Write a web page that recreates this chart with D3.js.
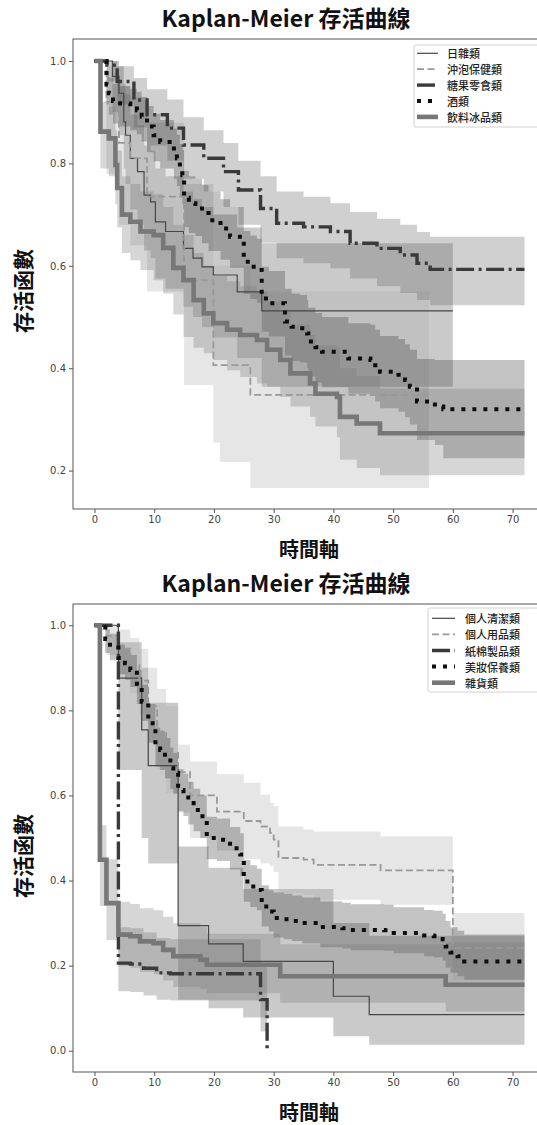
<!DOCTYPE html>
<html>
<head>
<meta charset="utf-8">
<script src="https://cdn.jsdelivr.net/npm/d3@7"></script>
<style>
  body { margin: 0; background: #fff; }
  svg { display: block; }
</style>
</head>
<body>
<svg id="chart" width="537" height="1125"></svg>
<script>
// ---------- top panel: 食品 ----------
const topNames = ['日雜類', '沖泡保健類', '糖果零食類', '酒類', '飲料冰品類'];
const xTicks = [0, 10, 20, 30, 40, 50, 60, 70];
const topYTicks = [0.2, 0.4, 0.6, 0.8, 1.0];
const botYTicks = [0.0, 0.2, 0.4, 0.6, 0.8, 1.0];

const rizaT  = [0, 3, 4.1, 4.9, 5.2, 6, 7.2, 8.3, 9.4, 10.2, 11.9, 14.9, 16.5, 18, 19.9, 23.9, 28, 60];
const rizaS  = [1, 0.97, 0.937, 0.881, 0.855, 0.81, 0.784, 0.738, 0.725, 0.686, 0.667, 0.634, 0.615, 0.598, 0.582, 0.549, 0.512, 0.512];
const rizaLo = [1, 0.9, 0.855, 0.79, 0.76, 0.71, 0.68, 0.63, 0.615, 0.575, 0.555, 0.52, 0.5, 0.48, 0.46, 0.42, 0.364, 0.364];
const rizaHi = [1, 1, 0.99, 0.955, 0.935, 0.895, 0.875, 0.835, 0.825, 0.79, 0.775, 0.745, 0.73, 0.715, 0.7, 0.675, 0.644, 0.644];

const chongT  = [0, 2, 4.1, 6, 8.8, 15, 19.9, 21, 26.1, 56];
const chongS  = [1, 0.92, 0.84, 0.81, 0.735, 0.572, 0.406, 0.406, 0.348, 0.348];
const chongLo = [1, 0.78, 0.68, 0.64, 0.55, 0.367, 0.255, 0.217, 0.166, 0.166];
const chongHi = [1, 0.99, 0.95, 0.93, 0.88, 0.76, 0.6, 0.6, 0.55, 0.55];

const tangT  = [0, 2.1, 3.8, 6.6, 8.8, 12.2, 14.9, 18.3, 21.6, 24.1, 27.8, 30.5, 35, 39.5, 42.8, 47.3, 51.2, 54, 56.2, 72];
const tangS  = [1, 0.992, 0.96, 0.924, 0.895, 0.869, 0.836, 0.81, 0.784, 0.748, 0.712, 0.683, 0.676, 0.667, 0.644, 0.634, 0.621, 0.605, 0.593, 0.593];
const tangLo = [1, 0.96, 0.915, 0.87, 0.835, 0.805, 0.77, 0.745, 0.715, 0.68, 0.645, 0.615, 0.605, 0.595, 0.575, 0.56, 0.547, 0.533, 0.523, 0.523];
const tangHi = [1, 1, 0.99, 0.967, 0.945, 0.925, 0.89, 0.865, 0.84, 0.805, 0.775, 0.745, 0.735, 0.722, 0.705, 0.692, 0.68, 0.666, 0.657, 0.657];

const jiuT  = [0, 2, 2.4, 3.1, 4.3, 6, 7.1, 7.9, 8.8, 9.9, 11, 13.3, 13.8, 14.3, 14.7, 15, 15.8, 16.9, 18, 19.1,
               21.1, 22.7, 25, 26.1, 27.2, 28, 29.2, 31.9, 33, 34.4, 35.6, 35.8, 37, 38.1, 42.5, 46.2, 47, 47.8, 50.9, 52,
               52.8, 54, 57, 58.4, 72];
const jiuS  = [1, 0.954, 0.937, 0.922, 0.917, 0.911, 0.904, 0.891, 0.872, 0.855, 0.842, 0.823, 0.81, 0.79, 0.777, 0.733, 0.722, 0.716, 0.703, 0.689,
               0.673, 0.657, 0.608, 0.598, 0.592, 0.536, 0.527, 0.491, 0.481, 0.478, 0.468, 0.452, 0.441, 0.432, 0.419, 0.416, 0.406, 0.393, 0.387, 0.377,
               0.364, 0.335, 0.325, 0.32, 0.32];
const jiuLo = [1, 0.915, 0.895, 0.878, 0.872, 0.865, 0.857, 0.843, 0.822, 0.804, 0.79, 0.77, 0.756, 0.735, 0.721, 0.676, 0.664, 0.658, 0.644, 0.629,
               0.612, 0.596, 0.545, 0.535, 0.528, 0.471, 0.462, 0.425, 0.414, 0.411, 0.4, 0.384, 0.372, 0.363, 0.35, 0.346, 0.335, 0.322, 0.315, 0.304,
               0.29, 0.26, 0.25, 0.224, 0.224];
const jiuHi = [1, 0.98, 0.968, 0.955, 0.951, 0.946, 0.94, 0.929, 0.912, 0.897, 0.885, 0.868, 0.856, 0.838, 0.826, 0.785, 0.775, 0.77, 0.758, 0.745,
               0.73, 0.715, 0.668, 0.659, 0.653, 0.598, 0.59, 0.555, 0.546, 0.543, 0.533, 0.518, 0.508, 0.5, 0.488, 0.485, 0.475, 0.463, 0.457, 0.447,
               0.436, 0.418, 0.416, 0.416, 0.416];

const yinT  = [0, 1, 2.4, 3.5, 3.8, 4.6, 6, 7.7, 9.9, 11.5, 13.2, 14.9, 16.6, 18.3, 19.9, 22.2, 24.4, 27.2, 28.9, 31.1, 32.8, 36.1, 37, 40.6, 41.1, 43.9, 47.8, 72];
const yinS  = [1, 0.862, 0.849, 0.797, 0.752, 0.7, 0.686, 0.667, 0.66, 0.635, 0.596, 0.572, 0.533, 0.507, 0.488, 0.475, 0.465, 0.455, 0.436, 0.416, 0.39, 0.37, 0.35, 0.344, 0.305, 0.292, 0.273, 0.273];
const yinLo = [1, 0.79, 0.775, 0.72, 0.675, 0.625, 0.611, 0.592, 0.572, 0.546, 0.505, 0.461, 0.44, 0.429, 0.416, 0.396, 0.383, 0.37, 0.364, 0.344, 0.325, 0.305, 0.286, 0.265, 0.221, 0.205, 0.191, 0.191];
const yinHi = [1, 0.92, 0.91, 0.865, 0.825, 0.775, 0.76, 0.745, 0.74, 0.715, 0.68, 0.66, 0.625, 0.6, 0.58, 0.57, 0.56, 0.55, 0.53, 0.51, 0.485, 0.465, 0.445, 0.44, 0.4, 0.385, 0.36, 0.36];

// ---------- bottom panel: 日用品 ----------
const botNames = ['個人清潔類', '個人用品類', '紙棉製品類', '美妝保養類', '雜貨類'];

const qingT  = [0, 4, 7.9, 9, 14, 19.1, 24.9, 40, 46, 72];
const qingS  = [1, 0.876, 0.754, 0.67, 0.294, 0.251, 0.21, 0.128, 0.085, 0.085];
const qingLo = [1, 0.66, 0.5, 0.44, 0.12, 0.1, 0.078, 0.034, 0.014, 0.014];
const qingHi = [1, 0.96, 0.9, 0.818, 0.48, 0.43, 0.38, 0.3, 0.27, 0.27];

const yongT  = [0, 2, 4, 6, 7.5, 9, 10.5, 12, 14, 16, 20.5, 25, 27.8, 29.4, 30, 30.8, 35, 36.7, 47.9, 60, 72];
const yongS  = [1, 0.975, 0.945, 0.91, 0.87, 0.81, 0.75, 0.7, 0.655, 0.6, 0.562, 0.54, 0.527, 0.512, 0.496, 0.453, 0.449, 0.437, 0.424, 0.241, 0.241];
const yongLo = [1, 0.93, 0.885, 0.84, 0.79, 0.725, 0.66, 0.605, 0.56, 0.5, 0.47, 0.45, 0.44, 0.435, 0.42, 0.37, 0.366, 0.355, 0.343, 0.167, 0.167];
const yongHi = [1, 1, 0.99, 0.97, 0.945, 0.9, 0.85, 0.81, 0.72, 0.68, 0.65, 0.63, 0.602, 0.583, 0.575, 0.527, 0.52, 0.515, 0.504, 0.324, 0.324];

const zhiT  = [0, 4, 6, 8.2, 10.4, 12.7, 27.8, 28.9, 29];
const zhiS  = [1, 0.206, 0.204, 0.194, 0.183, 0.181, 0.12, 0, 0];
const zhiLo = [1, 0.14, 0.138, 0.13, 0.12, 0.118, 0.045, 0, 0];
const zhiHi = [1, 0.29, 0.288, 0.278, 0.265, 0.262, 0.2, 0, 0];

const meiT  = [0, 1.8, 2.6, 4, 5.1, 6, 7.1, 7.9, 9, 10.2, 11, 11.8, 12.7, 13.2, 14, 14.9, 15.7, 16.6, 17.7, 18.8,
               20.5, 22.7, 24.4, 25, 26.1, 27.2, 28, 29.2, 30, 31.7, 33.1, 34.8, 37.8, 41.5, 42.9, 48.5, 50.1, 55.2, 56.8, 58.3,
               58.8, 59.6, 60.8, 61.9, 72];
const meiS  = [1, 0.968, 0.954, 0.923, 0.911, 0.895, 0.856, 0.82, 0.77, 0.715, 0.707, 0.688, 0.664, 0.653, 0.613, 0.602, 0.582, 0.566, 0.551, 0.5,
               0.496, 0.476, 0.461, 0.398, 0.386, 0.378, 0.339, 0.327, 0.312, 0.309, 0.305, 0.3, 0.291, 0.288, 0.284, 0.283, 0.277, 0.271, 0.269, 0.262,
               0.245, 0.231, 0.222, 0.21, 0.21];
const meiLo = [1, 0.935, 0.918, 0.885, 0.872, 0.855, 0.815, 0.775, 0.724, 0.668, 0.66, 0.64, 0.615, 0.604, 0.563, 0.552, 0.532, 0.516, 0.5, 0.45,
               0.446, 0.426, 0.411, 0.35, 0.338, 0.33, 0.292, 0.28, 0.266, 0.262, 0.258, 0.252, 0.243, 0.24, 0.236, 0.235, 0.229, 0.222, 0.22, 0.212,
               0.195, 0.183, 0.175, 0.167, 0.167];
const meiHi = [1, 0.99, 0.98, 0.955, 0.945, 0.93, 0.895, 0.86, 0.815, 0.76, 0.752, 0.735, 0.712, 0.7, 0.662, 0.651, 0.632, 0.616, 0.6, 0.55,
               0.546, 0.526, 0.511, 0.448, 0.436, 0.428, 0.389, 0.377, 0.372, 0.369, 0.365, 0.36, 0.351, 0.348, 0.344, 0.343, 0.337, 0.331, 0.329, 0.322,
               0.305, 0.29, 0.282, 0.273, 0.273];

const zaT  = [0, 0.9, 2, 4, 6, 7.6, 9.9, 11.5, 13.2, 17.7, 18.8, 31.1, 58.8, 72];
const zaS  = [1, 0.449, 0.347, 0.273, 0.269, 0.257, 0.253, 0.237, 0.222, 0.214, 0.202, 0.175, 0.155, 0.155];
const zaLo = [1, 0.34, 0.26, 0.2, 0.195, 0.185, 0.18, 0.165, 0.15, 0.145, 0.135, 0.113, 0.092, 0.092];
const zaHi = [1, 0.53, 0.45, 0.35, 0.345, 0.335, 0.33, 0.315, 0.3, 0.29, 0.275, 0.25, 0.255, 0.255];

// line styles shared by both panels: thin / dashed / dash-dot / dotted / thick
const styles = [
  { stroke: '#474747', width: 1.2, dash: null,            band: '#4e4e4e' },
  { stroke: '#999999', width: 1.8, dash: '7,3.5',         band: '#acacac' },
  { stroke: '#3a3a3a', width: 3.4, dash: '18,4.5,3,4.5',  band: '#626262' },
  { stroke: '#0d0d0d', width: 4,   dash: '4,7',           band: '#373737' },
  { stroke: '#777777', width: 4.6, dash: null,            band: '#767676' }
];

const cjk = '"Noto Sans CJK TC", "Noto Sans CJK SC", sans-serif';
const svg = d3.select('#chart');

function drawPanel(p) {
  const x = d3.scaleLinear().domain([-3.6, 75.6]).range([73, 546]);
  const y = d3.scaleLinear().domain(p.yDomain).range([p.bottom, p.top]);
  const g = svg.append('g');

  const clipId = 'clip' + p.id;
  g.append('clipPath').attr('id', clipId)
    .append('rect').attr('x', 73).attr('y', p.top).attr('width', 473).attr('height', p.bottom - p.top);

  const plot = g.append('g').attr('clip-path', `url(#${clipId})`);

  const area = s => d3.area()
    .x(i => x(s.t[i])).y0(i => y(s.lo[i])).y1(i => y(s.hi[i]))
    .curve(d3.curveStepAfter)(d3.range(s.t.length));
  const line = s => d3.line()
    .x(i => x(s.t[i])).y(i => y(s.s[i]))
    .curve(d3.curveStepAfter)(d3.range(s.t.length));

  p.series.forEach((s, k) => {
    plot.append('path').attr('d', area(s))
      .attr('fill', styles[k].band).attr('fill-opacity', 0.3).attr('stroke', 'none');
  });
  p.series.forEach((s, k) => {
    plot.append('path').attr('d', line(s))
      .attr('fill', 'none')
      .attr('stroke', styles[k].stroke)
      .attr('stroke-width', styles[k].width)
      .attr('stroke-dasharray', styles[k].dash);
  });

  // axes
  const xa = g.append('g').attr('transform', `translate(0,${p.bottom})`)
    .call(d3.axisBottom(x).tickValues(xTicks).tickSize(4).tickPadding(3).tickFormat(d3.format('d')));
  const ya = g.append('g').attr('transform', 'translate(73,0)')
    .call(d3.axisLeft(y).tickValues(p.yTicks).tickSize(4).tickPadding(3).tickFormat(d3.format('.1f')));
  [xa, ya].forEach(a => {
    a.select('.domain').remove();
    a.selectAll('line').attr('stroke', '#555');
    a.selectAll('text').attr('fill', '#444').attr('font-size', 10).attr('font-family', '"DejaVu Sans", sans-serif');
  });
  g.append('rect').attr('x', 73).attr('y', p.top).attr('width', 473).attr('height', p.bottom - p.top)
    .attr('fill', 'none').attr('stroke', '#555').attr('stroke-width', 1);

  // titles
  g.append('text').attr('x', 286).attr('y', p.titleY).attr('text-anchor', 'middle')
    .attr('font-family', cjk).attr('font-weight', 700).attr('font-size', 23).attr('fill', '#111')
    .text('Kaplan-Meier 存活曲線');
  g.append('text').attr('x', 309).attr('y', p.xLabelY).attr('text-anchor', 'middle')
    .attr('dominant-baseline', 'central')
    .attr('font-family', cjk).attr('font-weight', 700).attr('font-size', 20).attr('fill', '#111')
    .text('時間軸');
  g.append('text').attr('transform', `translate(22,${p.yLabelY}) rotate(-90)`)
    .attr('text-anchor', 'middle').attr('dominant-baseline', 'central')
    .attr('font-family', cjk).attr('font-weight', 700).attr('font-size', 21).attr('fill', '#111')
    .text('存活函數');

  // legend
  const L = p.legend;
  const lg = g.append('g');
  lg.append('rect').attr('x', L.x).attr('y', L.y).attr('width', L.w).attr('height', L.h)
    .attr('rx', 2).attr('fill', '#fff').attr('fill-opacity', 0.85).attr('stroke', '#d0d0d0');
  p.names.forEach((name, k) => {
    const cy = L.y + L.first + k * L.step;
    lg.append('line').attr('x1', L.x + L.s0).attr('x2', L.x + L.s1).attr('y1', cy).attr('y2', cy)
      .attr('stroke', styles[k].stroke).attr('stroke-width', styles[k].width)
      .attr('stroke-dasharray', styles[k].dash);
    lg.append('text').attr('x', L.x + L.tx).attr('y', cy).attr('dominant-baseline', 'central')
      .attr('font-family', cjk).attr('font-weight', 500).attr('font-size', 11).attr('fill', '#222')
      .text(name);
  });
}

drawPanel({
  id: 'top', top: 39, bottom: 509, yDomain: [0.125, 1.043], yTicks: topYTicks,
  titleY: 27, xLabelY: 548, yLabelY: 291,
  names: topNames,
  series: [
    { t: rizaT, s: rizaS, lo: rizaLo, hi: rizaHi },
    { t: chongT, s: chongS, lo: chongLo, hi: chongHi },
    { t: tangT, s: tangS, lo: tangLo, hi: tangHi },
    { t: jiuT, s: jiuS, lo: jiuLo, hi: jiuHi },
    { t: yinT, s: yinS, lo: yinLo, hi: yinHi }
  ],
  legend: { x: 414, y: 45, w: 126, h: 82, first: 8.3, step: 15.9, s0: 3, s1: 24, tx: 33 }
});

drawPanel({
  id: 'bot', top: 604, bottom: 1072, yDomain: [-0.05, 1.05], yTicks: botYTicks,
  titleY: 592, xLabelY: 1111, yLabelY: 856,
  names: botNames,
  series: [
    { t: qingT, s: qingS, lo: qingLo, hi: qingHi },
    { t: yongT, s: yongS, lo: yongLo, hi: yongHi },
    { t: zhiT, s: zhiS, lo: zhiLo, hi: zhiHi },
    { t: meiT, s: meiS, lo: meiLo, hi: meiHi },
    { t: zaT, s: zaS, lo: zaLo, hi: zaHi }
  ],
  legend: { x: 428, y: 608, w: 112, h: 84, first: 10.3, step: 16.1, s0: 4, s1: 27, tx: 37 }
});
</script>
</body>
</html>
